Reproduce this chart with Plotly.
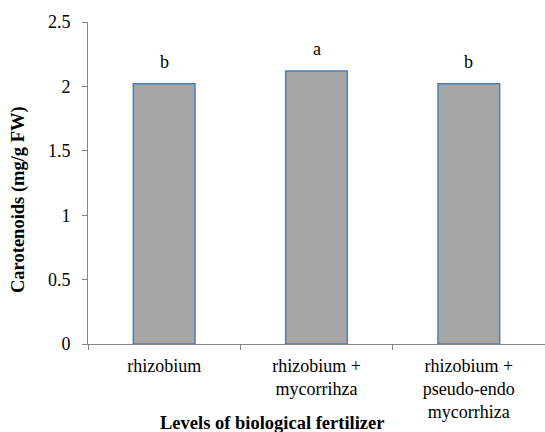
import plotly.graph_objects as go

categories = ["rhizobium", "rhizobium +<br>mycorrihza", "rhizobium +<br>pseudo-endo<br>mycorrhiza"]
values = [2.02, 2.12, 2.02]
letters = ["b", "a", "b"]
y_ticks = [0, 0.5, 1, 1.5, 2, 2.5]
y_tick_text = ["0", "0.5", "1", "1.5", "2", "2.5"]

FONT = "Liberation Serif"
AXIS_COLOR = "#868686"

fig = go.Figure()
fig.add_trace(go.Bar(
    x=categories, y=values, width=0.405,
    marker=dict(color="#a6a6a6", line=dict(color="#4a7ebb", width=1.5)),
    showlegend=False,
))

for c, v, t in zip(categories, values, letters):
    fig.add_annotation(x=c, y=v, text=t, showarrow=False, xref="x", yref="y",
                       yanchor="bottom", yshift=10,
                       font=dict(family=FONT, size=18, color="black"))

# plot area: x 88..545, y 22..344 (pixels)
fig.add_annotation(x=(272 - 88) / 457, y=(344 - 423) / 322, xref="paper", yref="paper",
                   xanchor="center", yanchor="middle",
                   text="<b>Levels of biological fertilizer</b>", showarrow=False,
                   font=dict(family=FONT, size=18.5, color="black"))
fig.add_annotation(x=(18 - 88) / 457, y=(344 - 200) / 322, xref="paper", yref="paper",
                   xanchor="center", yanchor="middle",
                   text="<b>Carotenoids (mg/g FW)</b>", showarrow=False, textangle=-90,
                   font=dict(family=FONT, size=18.5, color="black"))

fig.update_layout(
    width=545, height=432,
    margin=dict(l=88, r=0, t=22, b=88),
    paper_bgcolor="white", plot_bgcolor="white",
    font=dict(family=FONT, size=18, color="black"),
)

fig.update_xaxes(
    type="category", showline=True, linecolor=AXIS_COLOR, linewidth=1,
    ticks="outside", tickson="boundaries", ticklen=5, tickcolor=AXIS_COLOR,
    showgrid=False, zeroline=False, ticklabelstandoff=5,
    tickfont=dict(family=FONT, size=18, color="black"),
)
fig.update_yaxes(
    range=[0, 2.5], tickvals=y_ticks, ticktext=y_tick_text,
    showline=True, linecolor=AXIS_COLOR, linewidth=1,
    ticks="outside", ticklen=5, tickcolor=AXIS_COLOR,
    showgrid=False, zeroline=False, ticklabelstandoff=8,
    tickfont=dict(family=FONT, size=18, color="black"),
)

fig.write_html("out.html")
